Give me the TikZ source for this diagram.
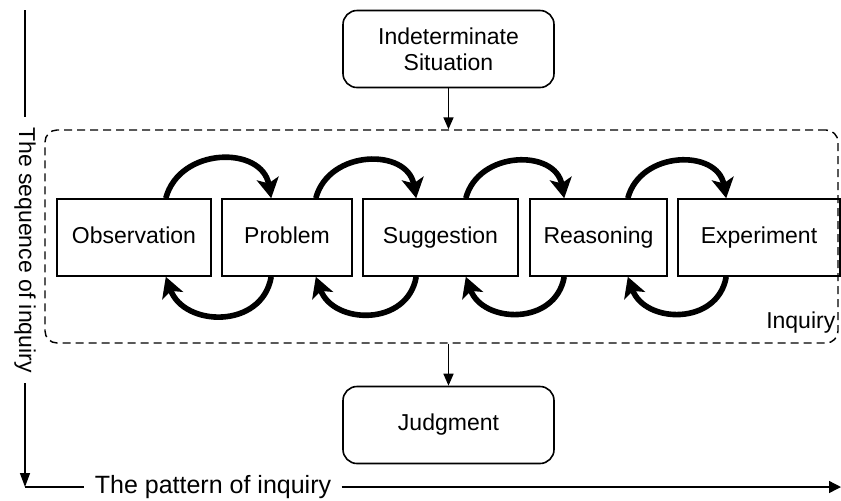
\documentclass[tikz,border=0pt]{standalone}
\usepackage{fontspec}
\setmainfont{Liberation Sans}
\usetikzlibrary{arrows.meta, shapes}

\begin{document}
\begin{tikzpicture}[x=0.5pt, y=0.5pt]
    \tikzstyle{every node} = [font=\fontsize{11.5}{13}\selectfont, align=center]
    \tikzstyle{stage} = [draw, line width=.8pt, minimum height=38.5pt, inner sep=0pt, text height=8.5pt, text depth=2.5pt]
    \tikzstyle{situation} = [draw, line width=.8pt, rounded corners=7pt, minimum width=105.5pt, minimum height=38.5pt]
    \tikzstyle{loop} = [line width=2.8pt, -{Stealth[length=10pt, width=11pt, inset=2.5pt]}]
    \tikzstyle{flow} = [line width=.8pt, -{Triangle[length=6pt, width=5pt]}]
    \tikzstyle{axis} = [line width=.7pt]
    \tikzstyle{axis label} = [font=\fontsize{12.5}{14}\selectfont, inner xsep=5pt, inner ysep=0pt]
    \useasboundingbox (0, 0) rectangle (841, -500);
    % situation and judgment
    \node (ind) [situation] at (448.5, -49) {Indeterminate\\Situation};
    \node (jud) [situation] at (448.5, -425) {Judgment};
    % the inquiry frame
    \node (inq) [draw, line width=.7pt, dash pattern=on 4pt off 2.5pt, rounded corners=6pt,
                 minimum width=396.5pt, minimum height=106.5pt] at (441.5, -236.5) {};
    \node (inqlabel) [anchor=south east, inner sep=0pt] at ([xshift=-1.5pt, yshift=5pt]inq.south east) {Inquiry};
    % the five stages
    \node (obs) [stage, minimum width=77pt] at (134, -237.5) {Observation};
    \node (prob) [stage, minimum width=65pt] at (287, -237.5) {Problem};
    \node (sug) [stage, minimum width=77.5pt] at (440.5, -237.5) {Suggestion};
    \node (rea) [stage, minimum width=68.5pt] at (598.5, -237.5) {Reasoning};
    \node (exp) [stage, minimum width=81pt] at (759, -237.5) {Experiment};
    % forward loops
    \draw [loop] ([xshift=-23pt]obs.north east) to[out=75, in=100, looseness=1.3] ([xshift=25pt]prob.north west);
    \draw [loop] ([xshift=-18.5pt]prob.north east) to[out=75, in=100, looseness=1.3] ([xshift=27pt]sug.north west);
    \draw [loop] ([xshift=-26.5pt]sug.north east) to[out=75, in=100, looseness=1.3] ([xshift=17.5pt]rea.north west);
    \draw [loop] ([xshift=-20pt]rea.north east) to[out=75, in=100, looseness=1.3] ([xshift=24.5pt]exp.north west);
    % backward loops
    \draw [loop] ([xshift=25pt]prob.south west) to[out=-100, in=-70, looseness=1.3] ([xshift=-23pt]obs.south east);
    \draw [loop] ([xshift=27pt]sug.south west) to[out=-100, in=-70, looseness=1.3] ([xshift=-18.5pt]prob.south east);
    \draw [loop] ([xshift=17.5pt]rea.south west) to[out=-100, in=-70, looseness=1.3] ([xshift=-26.5pt]sug.south east);
    \draw [loop] ([xshift=24.5pt]exp.south west) to[out=-100, in=-70, looseness=1.3] ([xshift=-20pt]rea.south east);
    % in and out of the inquiry
    \draw [flow] (ind.south) -- (ind.south |- inq.north);
    \draw [flow] (jud.north |- inq.south) -- (jud.north);
    % the two axes
    \coordinate (top) at (25, -10);
    \coordinate (corner) at (25, -487);
    \coordinate (tip) at (841, -487);
    \node (seq) [axis label, font=\fontsize{11.5}{14}\selectfont, rotate=-90] at (25, -250) {The sequence of inquiry};
    \node (pat) [axis label] at (213, -487) {The pattern of inquiry};
    \draw [axis] (top) -- (seq);
    \draw [axis, -{Triangle[length=7pt, width=5pt]}] (seq) -- (corner);
    \draw [axis] (corner) -- (pat);
    \draw [axis, -{Triangle[length=6pt, width=6pt]}] (pat) -- (tip);
\end{tikzpicture}
\end{document}
